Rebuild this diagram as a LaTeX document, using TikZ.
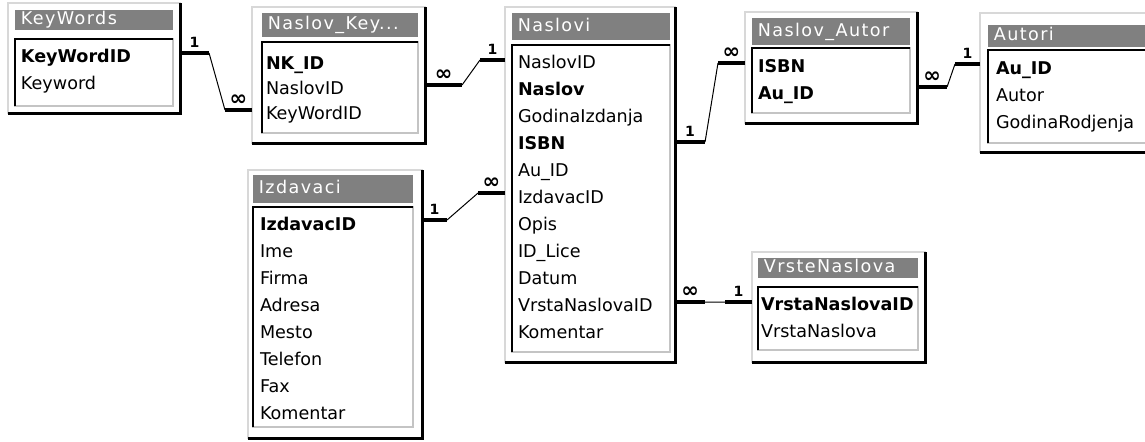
\documentclass[tikz,border=0pt]{standalone}
\usepackage{fontspec}
\setmainfont{DejaVu Sans}
\newfontfamily\titlefont[LetterSpace=8]{DejaVu Sans}
\usepackage{tikz}
\usetikzlibrary{positioning}
\definecolor{titlegray}{HTML}{808080}
\definecolor{edgegray}{HTML}{D8D8D8}
\definecolor{listgray}{HTML}{C4C4C4}
\tikzset{
  tablebox/.style={draw=edgegray,fill=white,line width=0.05cm,inner sep=0pt,
    outer sep=0pt,anchor=north west},
  dropedge/.style={draw=black,line width=0.075cm},
  titlebar/.style={fill=titlegray,text=white,anchor=north west,inner xsep=0.14cm,
    inner ysep=0pt,align=left,font=\titlefont\fontsize{12.5}{15}\selectfont,
    text height=9.5pt,text depth=2.9pt},
  listbox/.style={draw=listgray,fill=white,line width=0.05cm,inner sep=0pt,
    outer sep=0pt,anchor=north west},
  sunkedge/.style={draw=black,line width=0.05cm},
  fieldrow/.style={anchor=west,inner sep=0pt,outer sep=0pt,text width=3.7cm,align=left,
    minimum height=0.675cm,text height=9.5pt,text depth=2.9pt,
    font=\fontsize{12.5}{15}\selectfont},
  stub/.style={draw=black,line width=0.1cm},
  relline/.style={draw=black,line width=0.025cm},
  card/.style={font=\bfseries\fontsize{10}{12}\selectfont,inner sep=0pt,above=0.09cm},
  many/.style={font=\bfseries\fontsize{15}{15}\selectfont,inner sep=0pt,above=0.06cm}
}
\begin{document}
\begin{tikzpicture}[x=0.025cm,y=-0.025cm]
  \path[use as bounding box,fill=white] (0,0) rectangle (1145,441);
  \clip (0,0) rectangle (1145,441);

  % KeyWords
  \node[tablebox,minimum width=4.3cm,minimum height=2.75cm] (kw) at (8,3) {};
  \draw[dropedge] (kw.north east) -- (kw.south east) -- (kw.south west);
  \node[titlebar,text width=3.67cm,minimum height=0.5cm] (kwbar) at (15,10) {KeyWords};
  \node[listbox,minimum width=3.95cm,minimum height=1.675cm] (kwlist) at (15,39) {};
  \draw[sunkedge] (kwlist.south west) -- (kwlist.north west) -- (kwlist.north east);
  \node[fieldrow] (kwid) at (21,58) {\textbf{KeyWordID}};
  \node[fieldrow,below=0pt of kwid] (kwword) {Keyword};

  % Naslov_Key
  \node[tablebox,minimum width=4.325cm,minimum height=3.4cm] (nk) at (252,7) {};
  \draw[dropedge] (nk.north east) -- (nk.south east) -- (nk.south west);
  \node[titlebar,text width=3.62cm,minimum height=0.6cm] (nkbar) at (262,13) {Naslov\_Key...};
  \node[listbox,minimum width=3.9cm,minimum height=2.275cm] (nklist) at (262,42) {};
  \draw[sunkedge] (nklist.south west) -- (nklist.north west) -- (nklist.north east);
  \begin{scope}[fieldrow/.append style={minimum height=0.625cm}]
    \node[fieldrow] (nkid) at (266,65) {\textbf{NK\_ID}};
    \node[fieldrow,below=0pt of nkid] (nkns) {NaslovID};
    \node[fieldrow,below=0pt of nkns] (nkkw) {KeyWordID};
  \end{scope}

  % Naslovi
  \node[tablebox,minimum width=4.25cm,minimum height=8.875cm] (nv) at (505,7) {};
  \draw[dropedge] (nv.north east) -- (nv.south east) -- (nv.south west);
  \node[titlebar,text width=3.67cm,minimum height=0.675cm] (nvbar) at (512,13) {Naslovi};
  \node[listbox,minimum width=3.95cm,minimum height=7.675cm] (nvlist) at (512,45) {};
  \draw[sunkedge] (nvlist.south west) -- (nvlist.north west) -- (nvlist.north east);
  \node[fieldrow] (nvid) at (518,64) {NaslovID};
  \node[fieldrow,below=0pt of nvid] (nvnaslov) {\textbf{Naslov}};
  \node[fieldrow,below=0pt of nvnaslov] (nvgod) {GodinaIzdanja};
  \node[fieldrow,below=0pt of nvgod] (nvisbn) {\textbf{ISBN}};
  \node[fieldrow,below=0pt of nvisbn] (nvau) {Au\_ID};
  \node[fieldrow,below=0pt of nvau] (nvizd) {IzdavacID};
  \node[fieldrow,below=0pt of nvizd] (nvopis) {Opis};
  \node[fieldrow,below=0pt of nvopis] (nvlice) {ID\_Lice};
  \node[fieldrow,below=0pt of nvlice] (nvdatum) {Datum};
  \node[fieldrow,below=0pt of nvdatum] (nvvrsta) {VrstaNaslovaID};
  \node[fieldrow,below=0pt of nvvrsta] (nvkom) {Komentar};

  % Naslov_Autor
  \node[tablebox,minimum width=4.3cm,minimum height=2.775cm] (na) at (745,12) {};
  \draw[dropedge] (na.north east) -- (na.south east) -- (na.south west);
  \node[titlebar,text width=3.67cm,minimum height=0.675cm] (nabar) at (752,18) {Naslov\_Autor};
  \node[listbox,minimum width=3.95cm,minimum height=1.625cm] (nalist) at (752,48) {};
  \draw[sunkedge] (nalist.south west) -- (nalist.north west) -- (nalist.north east);
  \node[fieldrow] (naisbn) at (758,68) {\textbf{ISBN}};
  \node[fieldrow,below=0pt of naisbn] (naau) {\textbf{Au\_ID}};

  % Autori
  \node[tablebox,minimum width=5cm,minimum height=3.475cm] (au) at (980,13) {};
  \draw[dropedge] (au.north east) -- (au.south east) -- (au.south west);
  \node[titlebar,text width=4.72cm,minimum height=0.55cm] (aubar) at (988,25) {Autori};
  \node[listbox,minimum width=5cm,minimum height=2.325cm] (aulist) at (988,50) {};
  \draw[sunkedge] (aulist.south west) -- (aulist.north west) -- (aulist.north east);
  \node[fieldrow] (auid) at (996,70) {\textbf{Au\_ID}};
  \node[fieldrow,below=0pt of auid] (auname) {Autor};
  \node[fieldrow,below=0pt of auname] (augod) {GodinaRodjenja};

  % Izdavaci
  \node[tablebox,minimum width=4.35cm,minimum height=6.7cm] (iz) at (248,170) {};
  \draw[dropedge] (iz.north east) -- (iz.south east) -- (iz.south west);
  \node[titlebar,text width=3.72cm,minimum height=0.7cm] (izbar) at (253,175) {Izdavaci};
  \node[listbox,minimum width=4cm,minimum height=5.5cm] (izlist) at (253,207) {};
  \draw[sunkedge] (izlist.south west) -- (izlist.north west) -- (izlist.north east);
  \node[fieldrow] (izid) at (260,226) {\textbf{IzdavacID}};
  \node[fieldrow,below=0pt of izid] (izime) {Ime};
  \node[fieldrow,below=0pt of izime] (izfirma) {Firma};
  \node[fieldrow,below=0pt of izfirma] (izadr) {Adresa};
  \node[fieldrow,below=0pt of izadr] (izmesto) {Mesto};
  \node[fieldrow,below=0pt of izmesto] (iztel) {Telefon};
  \node[fieldrow,below=0pt of iztel] (izfax) {Fax};
  \node[fieldrow,below=0pt of izfax] (izkom) {Komentar};

  % VrsteNaslova
  \node[tablebox,minimum width=4.325cm,minimum height=2.75cm] (vn) at (752,252) {};
  \draw[dropedge] (vn.north east) -- (vn.south east) -- (vn.south west);
  \node[titlebar,text width=3.72cm,minimum height=0.5cm] (vnbar) at (758,258) {VrsteNaslova};
  \node[listbox,minimum width=4cm,minimum height=1.575cm] (vnlist) at (758,287) {};
  \draw[sunkedge] (vnlist.south west) -- (vnlist.north west) -- (vnlist.north east);
  \node[fieldrow] (vnid) at (761,306) {\textbf{VrstaNaslovaID}};
  \node[fieldrow,below=0pt of vnid] (vnname) {VrstaNaslova};

  % relationships
  \draw[stub] ([yshift=0.125cm]kwid.west -| kw.east) -- ++(29,0) node[card,midway] {1} coordinate (r1a);
  \draw[stub] ([yshift=0.125cm]nkkw.west -| nk.west) -- ++(-27,0) node[many,midway] {∞} coordinate (r1b);
  \draw[relline] (r1a) -- (r1b);

  \draw[stub] ([yshift=0.125cm]nkns.west -| nk.east) -- ++(37,0) node[many,midway] {∞} coordinate (r2a);
  \draw[stub] ([yshift=0.1cm]nvid.west -| nv.west) -- ++(-25,0) node[card,midway] {1} coordinate (r2b);
  \draw[relline] (r2a) -- (r2b);

  \draw[stub] ([yshift=0.075cm]nvisbn.west -| nv.east) -- ++(30,0) node[card,midway] {1} coordinate (r3a);
  \draw[stub] ([yshift=0.125cm]naisbn.west -| na.west) -- ++(-27,0) node[many,midway] {∞} coordinate (r3b);
  \draw[relline] (r3a) -- (r3b);

  \draw[stub] ([yshift=0.2cm]naau.west -| na.east) -- ++(30,0) node[many,midway] {∞} coordinate (r4a);
  \draw[stub] ([yshift=0.15cm]auid.west -| au.west) -- ++(-25,0) node[card,midway] {1} coordinate (r4b);
  \draw[relline] (r4a) -- (r4b);

  \draw[stub] ([yshift=0.15cm]izid.west -| iz.east) -- ++(25,0) node[card,midway] {1} coordinate (r5a);
  \draw[stub] ([yshift=0.15cm]nvizd.west -| nv.west) -- ++(-27,0) node[many,midway] {∞} coordinate (r5b);
  \draw[relline] (r5a) -- (r5b);

  \draw[stub] ([yshift=0.125cm]nvvrsta.west -| nv.east) -- ++(30,0) node[many,midway] {∞} coordinate (r6a);
  \draw[stub] ([yshift=0.1cm]vnid.west -| vn.west) -- ++(-27,0) node[card,midway] {1} coordinate (r6b);
  \draw[relline] (r6a) -- (r6b);
\end{tikzpicture}
\end{document}
